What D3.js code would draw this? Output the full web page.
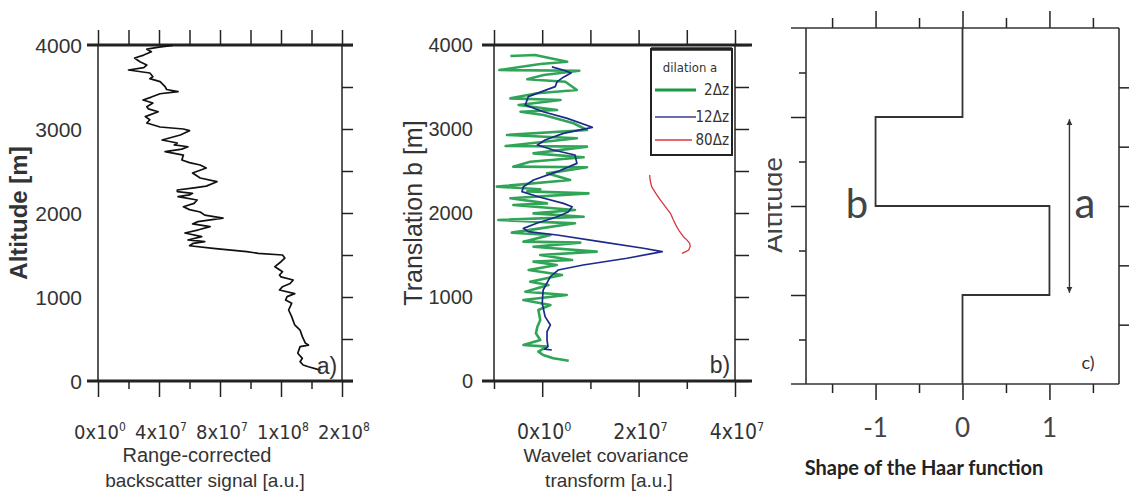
<!DOCTYPE html>
<html><head><meta charset="utf-8">
<script src="https://cdn.jsdelivr.net/npm/d3@7"></script>
<style>html,body{margin:0;padding:0;background:#fff;}svg{display:block;}</style>
</head><body>
<script>
// ---------- Data ----------
// Panel a: range-corrected backscatter signal vs altitude
const aAlt = [130,139,170,190,230,270,330,409,428,450,528,607,667,766,845,925,964,1004,1040,1083,1123,1160,1202,1240,1262,1301,1361,1420,1464,1500,1520,1540,1580,1610,1639,1660,1679,1718,1762,1800,1837,1870,1897,1940,1975,2012,2040,2075,2115,2155,2194,2215,2234,2255,2274,2300,2320,2373,2417,2476,2536,2571,2600,2631,2690,2730,2760,2789,2810,2833,2869,2928,2980,3000,3024,3071,3110,3147,3206,3240,3266,3310,3345,3380,3420,3444,3470,3504,3564,3600,3623,3667,3702,3730,3762,3800,3845,3880,3920,3950,3975,3995];
const aSignal = [14.6e7,14.4e7,13.8e7,13.45e7,13.25e7,13.4e7,13.1e7,13.25e7,13.8e7,13.6e7,13.4e7,13.25e7,12.9e7,12.7e7,12.5e7,12.7e7,12.3e7,12.4e7,12.9e7,11.9e7,12.1e7,12.6e7,12.8e7,12.0e7,11.9e7,12.1e7,11.6e7,12.0e7,12.25e7,12.1e7,10.5e7,9.75e7,7.55e7,6.0e7,6.25e7,7.0e7,5.9e7,6.8e7,5.7e7,6.6e7,7.35e7,6.2e7,6.55e7,8.2e7,7.0e7,6.7e7,6.0e7,5.6e7,6.3e7,6.5e7,5.25e7,6.0e7,6.2e7,5.2e7,5.2e7,6.3e7,7.1e7,7.8e7,6.7e7,6.2e7,7.1e7,6.7e7,6.0e7,5.5e7,5.6e7,4.4e7,5.5e7,5.9e7,5.0e7,5.2e7,4.2e7,5.4e7,6.0e7,5.6e7,4.07e7,3.2e7,3.4e7,3.1e7,3.95e7,3.3e7,3.2e7,3.6e7,2.95e7,3.5e7,4.07e7,5.25e7,4.5e7,4.4e7,4.07e7,3.4e7,3.6e7,3.4e7,2.0e7,3.0e7,3.2e7,2.75e7,2.4e7,3.0e7,3.5e7,3.2e7,4.0e7,4.9e7];

// Panel b: wavelet covariance transform, dilation 2Δz (green)
const g2Alt = [242,270,310,349,409,429,488,567,647,726,845,905,964,1024,1063,1143,1182,1262,1321,1381,1421,1440,1500,1540,1599,1647,1659,1738,1766,1817,1877,1917,1956,1996,2036,2095,2115,2175,2234,2258,2282,2314,2393,2472,2545,2552,2611,2663,2710,2790,2798,2889,2929,2988,3068,3167,3206,3226,3286,3345,3365,3425,3464,3563,3592,3643,3694,3702,3774,3801,3881,3869];
const g2Val = [0.55e7,0.23e7,0.02e7,-0.08e7,0.1e7,-0.39e7,-0.04e7,-0.13e7,-0.1e7,-0.04e7,-0.08e7,0.17e7,-0.39e7,0.51e7,-0.35e7,0.13e7,-0.25e7,0.41e7,-0.28e7,0.3e7,-0.18e7,0.62e7,-0.04e7,1.13e7,-0.18e7,0.79e7,-0.39e7,0.17e7,-0.63e7,-0.04e7,0.68e7,-0.91e7,0.86e7,-0.18e7,0.68e7,-0.6e7,0.1e7,-0.66e7,0.96e7,-0.31e7,-0.04e7,-0.94e7,0.58e7,0.1e7,0.93e7,-0.6e7,-0.25e7,0.86e7,-0.18e7,0.93e7,-0.76e7,0.72e7,-0.73e7,0.93e7,0.65e7,0.03e7,-0.45e7,0.31e7,-0.49e7,0.38e7,-0.66e7,-0.1e7,0.72e7,0.48e7,-0.31e7,0.03e7,0.77e7,-0.89e7,-0.04e7,0.52e7,-0.15e7,-0.66e7];
// dilation 12Δz (blue)
const b12Alt = [369,380,409,488,587,667,766,925,1083,1242,1321,1381,1461,1540,1580,1659,1738,1778,1817,1881,1956,2012,2075,2115,2194,2254,2313,2393,2492,2591,2690,2750,2810,2869,2948,3020,3127,3206,3286,3385,3504,3564,3620,3667,3700,3740];
const b12Val = [0.2e7,0.05e7,0.12e7,0.1e7,0.1e7,0.17e7,0.06e7,0,0.02e7,0.17e7,0.33e7,0.85e7,1.76e7,2.49e7,2.1e7,1.2e7,0.31e7,-0.29e7,-0.39e7,-0.1e7,0.31e7,0.54e7,0.62e7,0.44e7,-0.08e7,-0.42e7,-0.39e7,-0.18e7,0.31e7,0.72e7,0.68e7,0.23e7,-0.1e7,0.06e7,0.44e7,1.04e7,0.52e7,0.02e7,-0.35e7,-0.29e7,0.27e7,0.31e7,0.45e7,0.6e7,0.45e7,0.2e7];
// dilation 80Δz (red)
const r80Alt = [1520,1540,1560,1600,1639,1680,1718,1780,1837,1920,1996,2080,2155,2230,2313,2390,2452];
const r80Val = [2.9e7,2.98e7,3.04e7,3.07e7,3.06e7,3.0e7,2.93e7,2.85e7,2.79e7,2.72e7,2.66e7,2.55e7,2.45e7,2.36e7,2.27e7,2.24e7,2.23e7];
const legendTitle = "dilation a";
const legendLabels = ["2Δz","12Δz","80Δz"];

// Panel c: Haar function shape
const haarX = [0,0,-1,-1,1,1,0,0];
const haarAlt = [8,6,6,4,4,2,2,0];
const arrowAlt = [5.95,2.05];
const arrowX = 1.23;

// Tick labels
const altTicks = [0,1000,2000,3000,4000];
const aTickVals = [0,4e7,8e7,1.2e8,1.6e8];
const aTickMant = ["0","4","8","1","2"];
const aTickExp = ["0","7","7","8","8"];
const bTickVals = [0,2e7,4e7];
const bTickMant = ["0","2","4"];
const bTickExp = ["0","7","7"];
const cTickVals = [-1,0,1];
const cTickLabels = ["-1","0","1"];

// ---------- Drawing ----------
const W = 1129, H = 499;
const svg = d3.select("body").append("svg").attr("width",W).attr("height",H);
svg.append("rect").attr("width",W).attr("height",H).attr("fill","#fff");
const INK = "#222", TXT = "#333";
const SANS = "'Liberation Sans', Arial, sans-serif";
const NARROW = "'Liberation Sans Narrow', 'DejaVu Sans Condensed', 'Liberation Sans', sans-serif";
const CAL = "Lato, 'Open Sans', sans-serif";

function styleAxis(g){
  g.select(".domain").remove();
  g.selectAll(".tick line").attr("stroke",INK).attr("stroke-width",1.5);
  g.selectAll(".tick text").remove();
}
function hline(x1,x2,y,w,c){svg.append("line").attr("x1",x1).attr("x2",x2).attr("y1",y).attr("y2",y).attr("stroke",c||INK).attr("stroke-width",w);}
function vline(x,y1,y2,w,c){svg.append("line").attr("x1",x).attr("x2",x).attr("y1",y1).attr("y2",y2).attr("stroke",c||INK).attr("stroke-width",w);}
function sciLabel(x,y,m,e,size){
  const t = svg.append("text").attr("x",x).attr("y",y).attr("text-anchor","middle")
    .attr("font-family",NARROW).attr("font-size",size).attr("fill",TXT);
  t.append("tspan").text(m+"x10");
  t.append("tspan").attr("dy",-8).attr("font-size",size*0.6).text(e);
}
function txt(x,y,s,size,opts){
  opts = opts||{};
  return svg.append("text").attr("x",x).attr("y",y).attr("text-anchor",opts.anchor||"middle")
    .attr("font-family",opts.family||SANS).attr("font-size",size).attr("font-weight",opts.weight||"normal")
    .attr("fill",opts.fill||TXT).text(s);
}

// ===== Panel a =====
const ax = d3.scaleLinear().domain([0,1.6e8]).range([98,342]);
const ay = d3.scaleLinear().domain([0,4000]).range([381,45]);
const aAll = d3.range(0,1.6e8+1,2e7);
svg.append("g").attr("transform","translate(0,381)").call(d3.axisBottom(ax).tickValues(aAll.filter((d,i)=>i%2===1)).tickSize(8).tickFormat("")).call(styleAxis);
svg.append("g").attr("transform","translate(0,381)").call(d3.axisBottom(ax).tickValues(aTickVals).tickSize(16).tickFormat("")).call(styleAxis);
svg.append("g").attr("transform","translate(0,45)").call(d3.axisTop(ax).tickValues(aAll).tickSize(15).tickFormat("")).call(styleAxis);
svg.append("g").attr("transform","translate(342,0)").call(d3.axisRight(ay).tickValues(d3.range(0,4001,500)).tickSize(11).tickFormat("")).call(styleAxis);
hline(87,353,ay(4000),2.8); hline(87,353,ay(0),2.8);
vline(ax(0),45,381,1.5); vline(ax(1.6e8),45,381,1.5);
const lineA = d3.line().x((d,i)=>ax(aSignal[i])).y(d=>ay(d)).curve(d3.curveLinear);
svg.append("path").attr("d",lineA(aAlt)).attr("fill","none").attr("stroke","#111").attr("stroke-width",1.7).attr("stroke-linejoin","round");
altTicks.forEach(v=>txt(82,ay(v),v,21,{anchor:"end"}).attr("dy","0.36em"));
aTickVals.forEach((v,i)=>sciLabel(ax(v)+2,439,aTickMant[i],aTickExp[i],20));
svg.append("text").attr("transform","translate(27,213) rotate(-90)").attr("text-anchor","middle")
  .attr("font-family",SANS).attr("font-weight","bold").attr("font-size",24).attr("fill",TXT).text("Altitude [m]");
txt(197,462,"Range-corrected",20);
txt(205,487,"backscatter signal [a.u.]",19);
txt(327,374,"a)",23);

// ===== Panel b =====
const bx = d3.scaleLinear().domain([-1e7,4e7]).range([494,735]);
const by = ay;
const bAll = d3.range(-1e7,4e7+1,1e7);
svg.append("g").attr("transform","translate(0,381)").call(d3.axisBottom(bx).tickValues([-1e7,1e7,3e7]).tickSize(8).tickFormat("")).call(styleAxis);
svg.append("g").attr("transform","translate(0,381)").call(d3.axisBottom(bx).tickValues(bTickVals).tickSize(16).tickFormat("")).call(styleAxis);
svg.append("g").attr("transform","translate(0,45)").call(d3.axisTop(bx).tickValues(bAll).tickSize(15).tickFormat("")).call(styleAxis);
svg.append("g").attr("transform","translate(735,0)").call(d3.axisRight(by).tickValues(d3.range(0,4001,500)).tickSize(14).tickFormat("")).call(styleAxis);
hline(482,752,by(4000),2.8); hline(482,752,by(0),2.8);
vline(bx(-1e7),45,381,1.5); vline(bx(4e7),45,381,1.5);
const mk = (vals)=>d3.line().x((d,i)=>bx(vals[i])).y(d=>by(d));
svg.append("path").attr("d",mk(g2Val)(g2Alt)).attr("fill","none").attr("stroke","#1a9a45").attr("stroke-width",2.6).attr("stroke-opacity",0.9).attr("stroke-linejoin","round");
svg.append("path").attr("d",mk(b12Val)(b12Alt)).attr("fill","none").attr("stroke","#1c2a8c").attr("stroke-width",1.7).attr("stroke-linejoin","round");
svg.append("path").attr("d",mk(r80Val)(r80Alt)).attr("fill","none").attr("stroke","#d9363a").attr("stroke-width",1.3).attr("stroke-linejoin","round");
altTicks.forEach(v=>txt(473,by(v),v,20,{anchor:"end"}).attr("dy","0.36em"));
bTickVals.forEach((v,i)=>sciLabel(bx(v)+2,439,bTickMant[i],bTickExp[i],21));
svg.append("text").attr("transform","translate(422,213) rotate(-90)").attr("text-anchor","middle")
  .attr("font-family",SANS).attr("font-size",25).attr("fill",TXT).text("Translation b [m]");
txt(606,462,"Wavelet covariance",19);
txt(609,487,"transform [a.u.]",19);
txt(720,373,"b)",23);
// legend
svg.append("rect").attr("x",651).attr("y",49).attr("width",81).attr("height",106).attr("fill","#fff").attr("stroke",INK).attr("stroke-width",2);
hline(651,732,49,3.5);
txt(690,72,legendTitle,13,{family:NARROW});
const legColors = ["#1a9a45","#3a3f8c","#d9363a"], legW = [3,1.5,1.3], legY = [90,117,140];
legendLabels.forEach((l,i)=>{
  hline(655, i===2?692:696, legY[i], legW[i], legColors[i]);
  txt(729,legY[i],l,15,{anchor:"end",family:NARROW}).attr("dy","0.36em");
});

// ===== Panel c =====
const cx = d3.scaleLinear().domain([-1.8,1.8]).range([806,1119]);
const cy = d3.scaleLinear().domain([0,8]).range([384,28]);
const cMinor = [-1.5,-0.5,0.5,1.5];
svg.append("g").attr("transform","translate(0,28)").call(d3.axisTop(cx).tickValues(cMinor).tickSize(10).tickFormat("")).call(styleAxis);
svg.append("g").attr("transform","translate(0,28)").call(d3.axisTop(cx).tickValues(cTickVals).tickSize(17).tickFormat("")).call(styleAxis);
svg.append("g").attr("transform","translate(0,384)").call(d3.axisBottom(cx).tickValues(cMinor).tickSize(9).tickFormat("")).call(styleAxis);
svg.append("g").attr("transform","translate(0,384)").call(d3.axisBottom(cx).tickValues(cTickVals).tickSize(16).tickFormat("")).call(styleAxis);
svg.append("g").attr("transform","translate(806,0)").call(d3.axisLeft(cy).tickValues([1,3,5,7]).tickSize(7).tickFormat("")).call(styleAxis);
svg.append("g").attr("transform","translate(806,0)").call(d3.axisLeft(cy).tickValues([2,4,6]).tickSize(15).tickFormat("")).call(styleAxis);
svg.append("g").attr("transform","translate(1119,0)").call(d3.axisRight(cy).tickValues(d3.range(1,6).map(k=>k*8/6)).tickSize(11).tickFormat("")).call(styleAxis);
hline(791,1119,cy(8),1.6,"#333"); hline(791,1119,cy(0),1.6,"#333");
vline(cx(-1.8),28,384,1.6,"#333"); vline(cx(1.8),28,384,1.6,"#333");
const haarLine = d3.line().x((d,i)=>cx(haarX[i])).y(d=>cy(d));
svg.append("path").attr("d",haarLine(haarAlt)).attr("fill","none").attr("stroke","#333").attr("stroke-width",1.8);
const defs = svg.append("defs");
defs.append("marker").attr("id","ah").attr("viewBox","0 0 10 10").attr("refX",10).attr("refY",5)
  .attr("markerWidth",6).attr("markerHeight",7).attr("markerUnits","userSpaceOnUse").attr("orient","auto-start-reverse")
  .append("path").attr("d","M0,0 L10,5 L0,10 z").attr("fill","#333");
svg.append("line").attr("x1",cx(arrowX)).attr("x2",cx(arrowX)).attr("y1",cy(arrowAlt[0])).attr("y2",cy(arrowAlt[1]))
  .attr("stroke","#333").attr("stroke-width",1.4).attr("marker-start","url(#ah)").attr("marker-end","url(#ah)");
txt(857,218,"b",40,{family:CAL,fill:"#444"});
txt(1085,218,"a",42,{family:CAL,fill:"#444"});
txt(1088,369,"c)",18,{family:CAL});
cTickVals.forEach((v,i)=>txt(cx(v),437,cTickLabels[i],26,{family:CAL,fill:"#444"}));
txt(924,475,"Shape of the Haar function",20,{family:CAL,weight:"bold",fill:"#222"});
defs.append("clipPath").attr("id","altclip").append("rect").attr("x",768).attr("y",0).attr("width",36).attr("height",499);
svg.append("g").attr("clip-path","url(#altclip)").append("text").attr("transform","translate(782,205) rotate(-90)").attr("text-anchor","middle")
  .attr("font-family",CAL).attr("font-size",27).attr("fill","#444").text("Altitude");
</script>
</body></html>
